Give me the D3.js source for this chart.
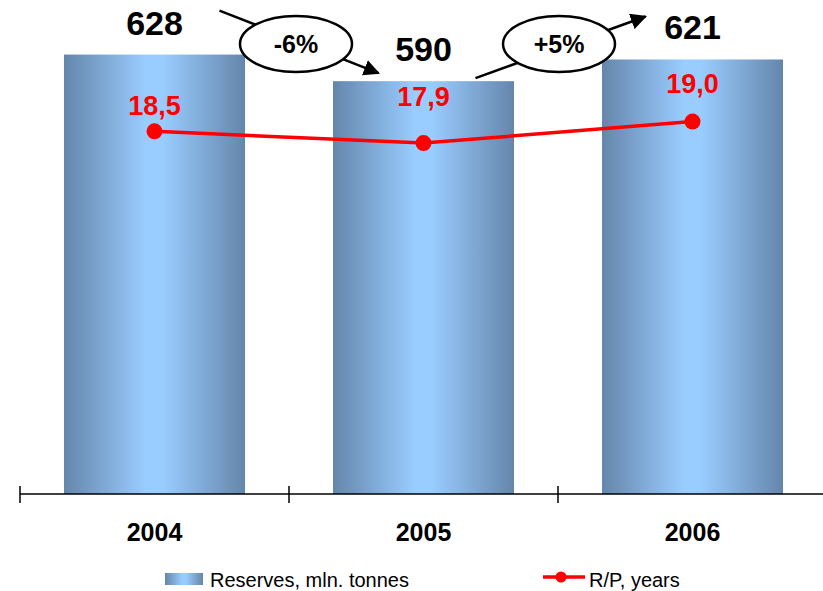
<!DOCTYPE html>
<html>
<head>
<meta charset="utf-8">
<script src="https://cdn.jsdelivr.net/npm/d3@7"></script>
<style>
  body { margin: 0; background: #fff; }
  svg { display: block; font-family: "Liberation Sans", Arial, sans-serif; }
</style>
</head>
<body>
<svg></svg>
<script>
const years = ["2004", "2005", "2006"];
const reserves = [628, 590, 621];
const rpYears = [18.5, 17.9, 19.0];
const changeLabels = ["-6%", "+5%"];
const legendLabels = ["Reserves, mln. tonnes", "R/P, years"];

const width = 823;
const height = 591;
const svg = d3.select("svg").attr("width", width).attr("height", height);

const baseY = 494;
const x = d3.scaleBand()
  .domain(years)
  .range([20, 827])
  .paddingInner(0.327)
  .paddingOuter(0.1635);
const step = x.step();
const y = d3.scaleLinear().domain([0, 706]).range([baseY, 0]);
const y2 = d3.scaleLinear().domain([0, 25.2]).range([baseY, 0]);
const cx = d => x(d) + x.bandwidth() / 2;
const fmt = v => d3.format(".1f")(v).replace(".", ",");

// gradient for bars
const defs = svg.append("defs");
const grad = defs.append("linearGradient")
  .attr("id", "barGrad")
  .attr("x1", "0%").attr("x2", "100%").attr("y1", "0%").attr("y2", "0%");
grad.append("stop").attr("offset", "0%").attr("stop-color", "#6586ab");
grad.append("stop").attr("offset", "45%").attr("stop-color", "#99ccff");
grad.append("stop").attr("offset", "55%").attr("stop-color", "#99ccff");
grad.append("stop").attr("offset", "100%").attr("stop-color", "#6586ab");

defs.append("marker")
  .attr("id", "arrow")
  .attr("viewBox", "0 0 10 10")
  .attr("refX", 9).attr("refY", 5)
  .attr("markerWidth", 6.5).attr("markerHeight", 6.5)
  .attr("markerUnits", "strokeWidth")
  .attr("orient", "auto")
  .append("path")
  .attr("d", "M0,0 L10,5 L0,10 Z")
  .attr("fill", "#000");

// bars
svg.append("g").selectAll("rect")
  .data(years)
  .join("rect")
  .attr("x", d => x(d))
  .attr("y", (d, i) => y(reserves[i]))
  .attr("width", x.bandwidth())
  .attr("height", (d, i) => baseY - y(reserves[i]))
  .attr("fill", "url(#barGrad)");

// axis
const axis = svg.append("g").attr("stroke", "#000").attr("stroke-width", 1.5);
axis.append("line")
  .attr("x1", 20).attr("x2", width)
  .attr("y1", baseY).attr("y2", baseY);
axis.selectAll(".tick")
  .data(years)
  .join("line")
  .attr("x1", d => x(d) - step * 0.1635)
  .attr("x2", d => x(d) - step * 0.1635)
  .attr("y1", baseY - 8).attr("y2", baseY + 9);

svg.append("g").selectAll("text")
  .data(years)
  .join("text")
  .attr("x", d => cx(d))
  .attr("y", 541)
  .attr("text-anchor", "middle")
  .attr("font-size", 25)
  .attr("font-weight", "bold")
  .text(d => d);

// bar value labels
svg.append("g").selectAll("text")
  .data(years)
  .join("text")
  .attr("x", d => cx(d))
  .attr("y", (d, i) => y(reserves[i]) - 20)
  .attr("text-anchor", "middle")
  .attr("font-size", 34)
  .attr("font-weight", "bold")
  .text((d, i) => reserves[i]);

// R/P line
const line = d3.line()
  .x((d, i) => cx(years[i]))
  .y(d => y2(d));
svg.append("path")
  .datum(rpYears)
  .attr("d", line)
  .attr("fill", "none")
  .attr("stroke", "#ff0000")
  .attr("stroke-width", 3.5);
svg.append("g").selectAll("circle")
  .data(rpYears)
  .join("circle")
  .attr("cx", (d, i) => cx(years[i]))
  .attr("cy", d => y2(d))
  .attr("r", 8)
  .attr("fill", "#ff0000");

const rpLabelDy = [-16, -37, -29];
svg.append("g").selectAll("text")
  .data(rpYears)
  .join("text")
  .attr("x", (d, i) => cx(years[i]))
  .attr("y", (d, i) => y2(d) + rpLabelDy[i])
  .attr("text-anchor", "middle")
  .attr("font-size", 27)
  .attr("font-weight", "bold")
  .attr("fill", "#ff0000")
  .text(d => fmt(d));

// change arrows with ellipses
const arrows = [
  { x1: cx(years[0]) + 65, y1: y(reserves[0]) - 44, x2: cx(years[1]) - 45, y2: y(reserves[1]) - 8 },
  { x1: cx(years[1]) + 52, y1: y(reserves[1]) - 3, x2: cx(years[2]) - 47, y2: y(reserves[2]) - 43 }
];
const ann = svg.append("g");
ann.selectAll("line")
  .data(arrows)
  .join("line")
  .attr("x1", d => d.x1).attr("y1", d => d.y1)
  .attr("x2", d => d.x2).attr("y2", d => d.y2)
  .attr("stroke", "#000")
  .attr("stroke-width", 2.5)
  .attr("marker-end", "url(#arrow)");

const ellX = [x(years[1]) - step * 0.1635 + 7, x(years[2]) - step * 0.1635 + 1];
ann.selectAll("ellipse")
  .data(changeLabels)
  .join("ellipse")
  .attr("cx", (d, i) => ellX[i])
  .attr("cy", 44)
  .attr("rx", 56)
  .attr("ry", 28)
  .attr("fill", "#fff")
  .attr("stroke", "#000")
  .attr("stroke-width", 2.5);
ann.selectAll("text")
  .data(changeLabels)
  .join("text")
  .attr("x", (d, i) => ellX[i])
  .attr("y", 53)
  .attr("text-anchor", "middle")
  .attr("font-size", 25)
  .attr("font-weight", "bold")
  .text(d => d);

// legend
const legend = svg.append("g");
legend.append("rect")
  .attr("x", 165).attr("y", 573)
  .attr("width", 38).attr("height", 12)
  .attr("fill", "url(#barGrad)");
legend.append("text")
  .attr("x", 210).attr("y", 587)
  .attr("font-size", 20)
  .text(legendLabels[0]);
legend.append("line")
  .attr("x1", 543).attr("x2", 585)
  .attr("y1", 577).attr("y2", 577)
  .attr("stroke", "#ff0000")
  .attr("stroke-width", 3.5);
legend.append("circle")
  .attr("cx", 561).attr("cy", 577)
  .attr("r", 5.5)
  .attr("fill", "#ff0000");
legend.append("text")
  .attr("x", 589).attr("y", 587)
  .attr("font-size", 20)
  .text(legendLabels[1]);
</script>
</body>
</html>
